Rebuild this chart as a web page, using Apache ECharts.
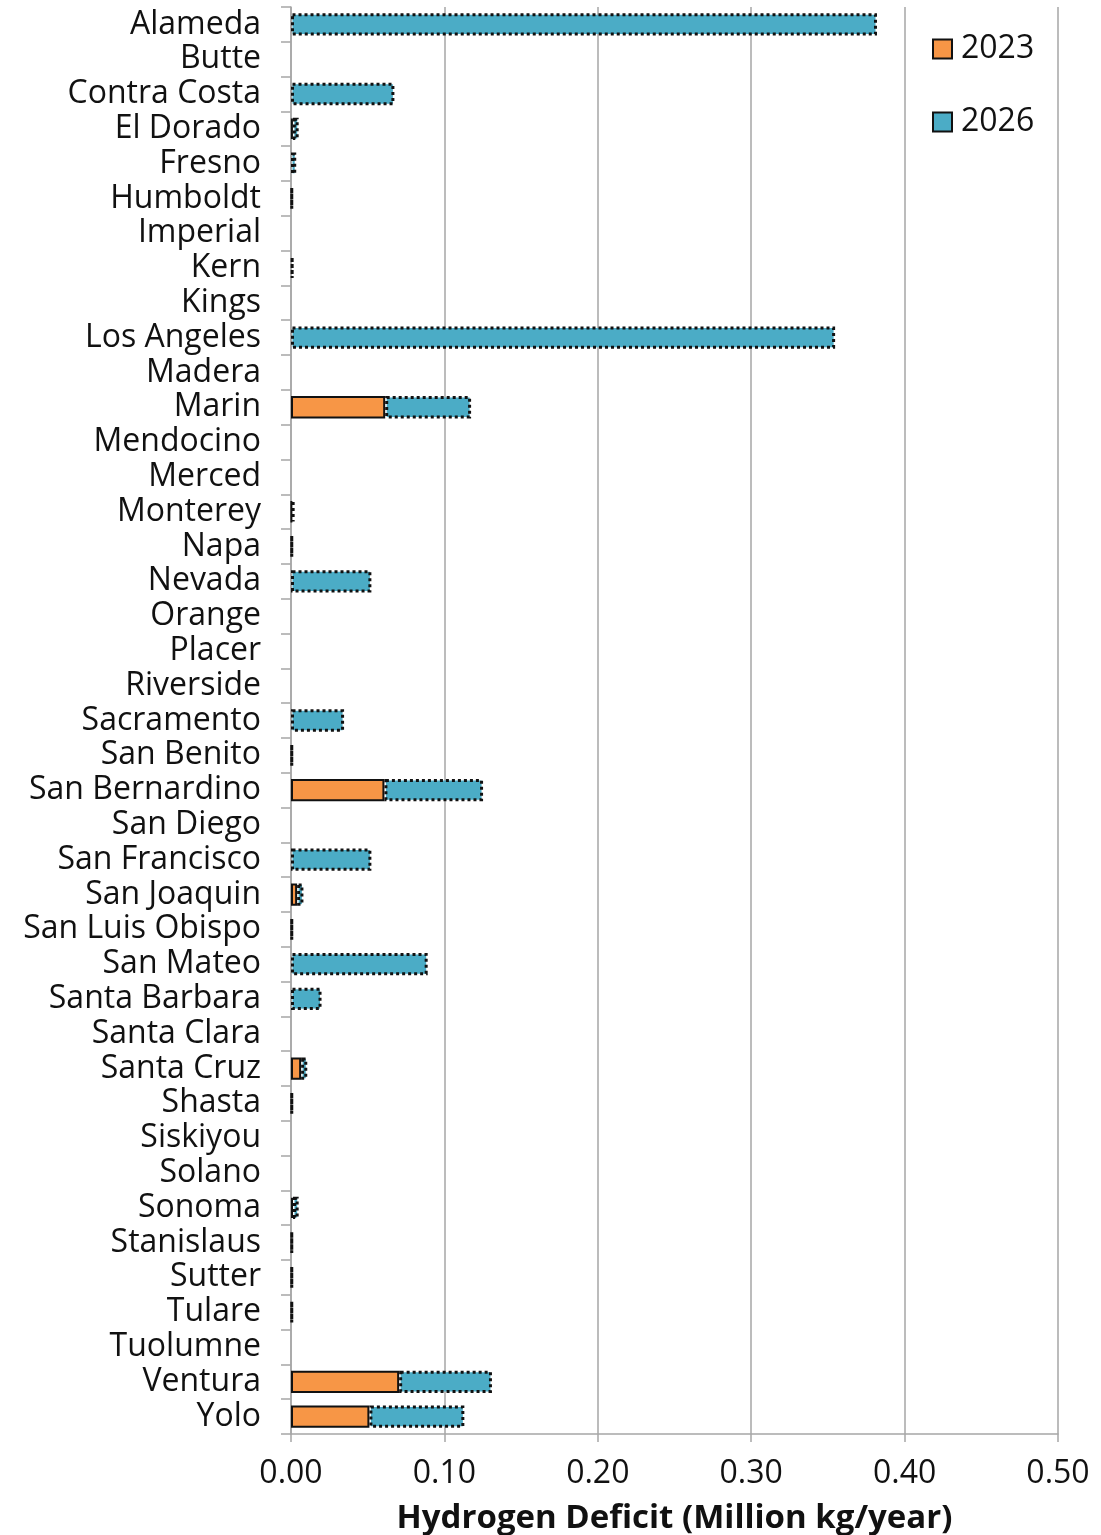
<!DOCTYPE html>
<html>
<head>
<meta charset="utf-8">
<script src="https://cdn.jsdelivr.net/npm/echarts@6/dist/echarts.min.js"></script>
<style>
  html, body { margin: 0; padding: 0; background: #fff; }
  #chart { width: 1101px; height: 1535px; }
</style>
</head>
<body>
<div id="chart"></div>
<script>
// County hydrogen deficit, million kg per year
const counties = [
  'Alameda', 'Butte', 'Contra Costa', 'El Dorado', 'Fresno', 'Humboldt', 'Imperial',
  'Kern', 'Kings', 'Los Angeles', 'Madera', 'Marin', 'Mendocino', 'Merced', 'Monterey',
  'Napa', 'Nevada', 'Orange', 'Placer', 'Riverside', 'Sacramento', 'San Benito',
  'San Bernardino', 'San Diego', 'San Francisco', 'San Joaquin', 'San Luis Obispo',
  'San Mateo', 'Santa Barbara', 'Santa Clara', 'Santa Cruz', 'Shasta', 'Siskiyou',
  'Solano', 'Sonoma', 'Stanislaus', 'Sutter', 'Tulare', 'Tuolumne', 'Ventura', 'Yolo'
];

// Deficit in 2023
const deficit2023 = [
  0, 0, 0, 0.0012, 0, 0, 0,
  0, 0, 0, 0, 0.0614, 0, 0, 0.0005,
  0, 0, 0, 0, 0, 0, 0,
  0.0609, 0, 0, 0.0040, 0,
  0, 0, 0, 0.0066, 0, 0,
  0, 0.0013, 0, 0, 0, 0, 0.0705, 0.0511
];

// Additional deficit by 2026 (stacked on top of 2023)
const deficit2026 = [
  0.3820, 0, 0.0674, 0.0038, 0.0034, 0.0010, 0,
  0.0015, 0, 0.3547, 0, 0.0560, 0, 0, 0.0018,
  0.0010, 0.0524, 0, 0, 0, 0.0346, 0.0010,
  0.0643, 0, 0.0524, 0.0041, 0.0010,
  0.0891, 0.0199, 0, 0.0040, 0.0010, 0,
  0, 0.0037, 0.0010, 0.0010, 0.0010, 0, 0.0605, 0.0619
];

const xTicks = [0, 0.1, 0.2, 0.3, 0.4, 0.5];

// zero-valued entries get no bar at all (otherwise their border shows as a hairline)
const noZero = arr => arr.map(v => (v === 0 ? '-' : v));

const FONT = '"Open Sans", "Noto Sans", sans-serif';
const chart = echarts.init(document.getElementById('chart'), null, { renderer: 'canvas' });

chart.setOption({
  animation: false,
  backgroundColor: '#ffffff',
  textStyle: { fontFamily: FONT },
  grid: { left: 291, right: 43, top: 7, bottom: 101, containLabel: false, outerBoundsMode: 'none' },
  legend: {
    orient: 'vertical',
    left: 927,
    top: 28,
    icon: 'rect',
    itemWidth: 19,
    itemHeight: 19,
    itemGap: 41,
    textStyle: { fontSize: 32, color: '#111', fontFamily: FONT, padding: [0, 0, 0, 4] },
    data: ['2023', '2026']
  },
  xAxis: {
    type: 'value',
    min: xTicks[0],
    max: xTicks[xTicks.length - 1],
    interval: 0.1,
    name: 'Hydrogen Deficit (Million kg/year)',
    nameLocation: 'middle',
    nameGap: 68,
    nameTextStyle: { fontSize: 33, fontWeight: 'bold', color: '#111', fontFamily: FONT },
    axisLine: { show: true, lineStyle: { color: '#a6a6a6', width: 1.5 } },
    axisTick: { show: true, length: 8, lineStyle: { color: '#a6a6a6', width: 1.5 } },
    axisLabel: {
      fontSize: 32, color: '#111', margin: 24, fontFamily: FONT,
      formatter: v => v.toFixed(2)
    },
    splitLine: { show: true, lineStyle: { color: '#a6a6a6', width: 1.5 } }
  },
  yAxis: {
    type: 'category',
    data: counties,
    inverse: true,
    axisLine: { show: true, lineStyle: { color: '#a6a6a6', width: 1.5 } },
    axisTick: { show: true, length: 10, lineStyle: { color: '#a6a6a6', width: 1.5 } },
    axisLabel: { fontSize: 32, color: '#111', margin: 30, fontFamily: FONT, interval: 0 },
    splitLine: { show: false }
  },
  series: [
    {
      name: '2023',
      type: 'bar',
      stack: 'total',
      data: noZero(deficit2023),
      barCategoryGap: '36%',
      itemStyle: { color: '#F79646', borderColor: '#111', borderWidth: 2, borderType: 'solid' }
    },
    {
      name: '2026',
      type: 'bar',
      stack: 'total',
      data: noZero(deficit2026),
      barCategoryGap: '36%',
      itemStyle: { color: '#4BACC6', borderColor: '#111', borderWidth: 3, borderType: [3, 3] }
    }
  ]
});
</script>
</body>
</html>
